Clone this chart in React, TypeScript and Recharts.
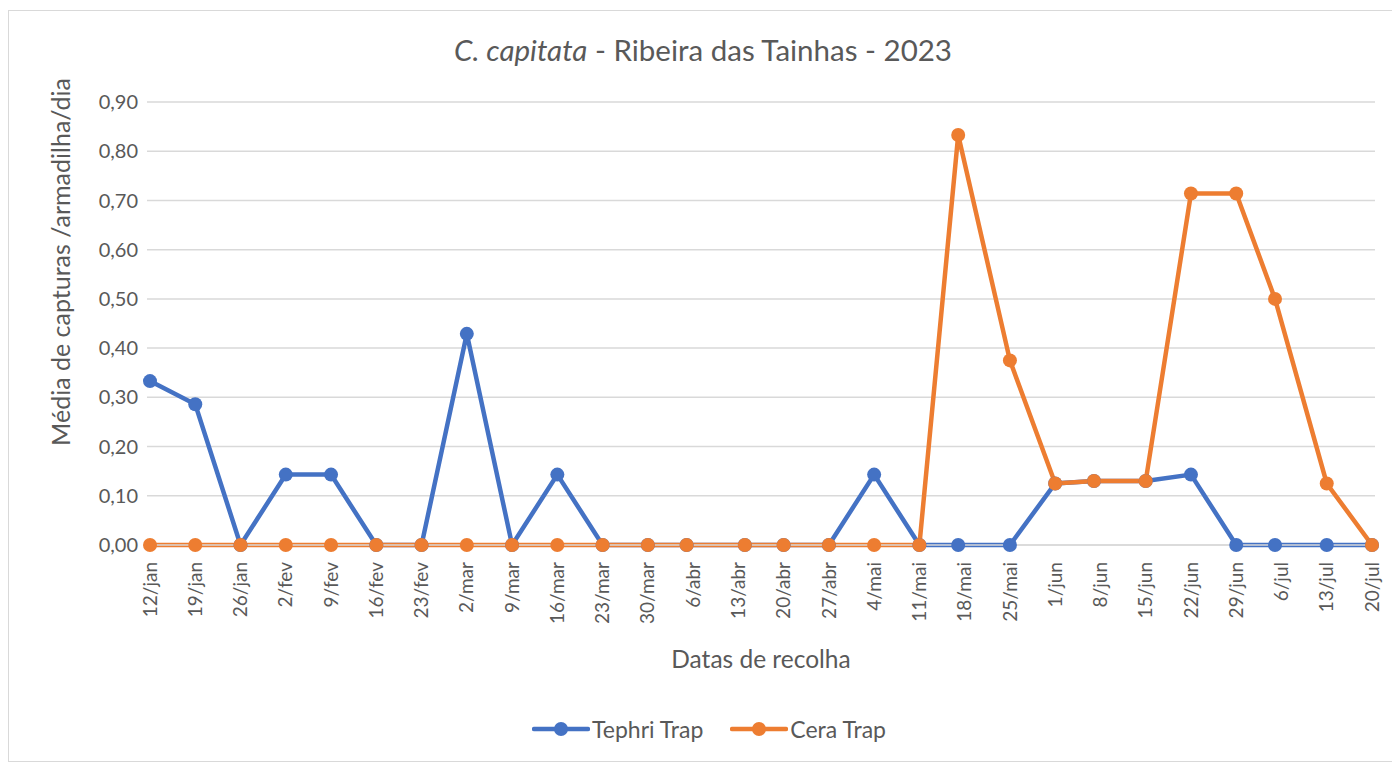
import React from 'react';
import { LineChart, Line, XAxis, YAxis, CartesianGrid, Legend, Label } from 'recharts';

// collection dates (actual sampling days) and mean captures per trap per day
const collectionDates = [
  '2023-01-12', '2023-01-19', '2023-01-26', '2023-02-02', '2023-02-09', '2023-02-16', '2023-02-23',
  '2023-03-02', '2023-03-09', '2023-03-16', '2023-03-23', '2023-03-30', '2023-04-05', '2023-04-14',
  '2023-04-20', '2023-04-27', '2023-05-04', '2023-05-11', '2023-05-17', '2023-05-25', '2023-06-01',
  '2023-06-07', '2023-06-15', '2023-06-22', '2023-06-29', '2023-07-05', '2023-07-13', '2023-07-20',
];
const tephriTrap = [
  0.333, 0.286, 0, 0.143, 0.143, 0, 0, 0.429, 0, 0.143, 0, 0, 0, 0,
  0, 0, 0.143, 0, 0, 0, 0.125, 0.13, 0.13, 0.143, 0, 0, 0, 0,
];
const ceraTrap = [
  0, 0, 0, 0, 0, 0, 0, 0, 0, 0, 0, 0, 0, 0,
  0, 0, 0, 0, 0.833, 0.375, 0.125, 0.13, 0.13, 0.714, 0.714, 0.5, 0.125, 0,
];

// weekly tick labels of the date axis
const tickLabels = [
  '12/jan', '19/jan', '26/jan', '2/fev', '9/fev', '16/fev', '23/fev', '2/mar', '9/mar', '16/mar',
  '23/mar', '30/mar', '6/abr', '13/abr', '20/abr', '27/abr', '4/mai', '11/mai', '18/mai', '25/mai',
  '1/jun', '8/jun', '15/jun', '22/jun', '29/jun', '6/jul', '13/jul', '20/jul',
];
const monthNames = ['jan', 'fev', 'mar', 'abr', 'mai', 'jun', 'jul', 'ago', 'set', 'out', 'nov', 'dez'];
const yTicks = [0, 0.1, 0.2, 0.3, 0.4, 0.5, 0.6, 0.7, 0.8, 0.9];

const BLUE = '#4472C4';
const ORANGE = '#ED7D31';
const TEXT = '#595959';
const FONT = 'Lato, "Open Sans", sans-serif';

const DAY = 86400000;
const origin = Date.UTC(2023, 0, 12);
const isoToDay = (iso: string) => {
  const [y, m, d] = iso.split('-').map(Number);
  return (Date.UTC(y, m - 1, d) - origin) / DAY;
};
const labelToDay = (label: string) => {
  const [d, mon] = label.split('/');
  return (Date.UTC(2023, monthNames.indexOf(mon), Number(d)) - origin) / DAY;
};

const data = collectionDates.map((date, i) => ({
  day: isoToDay(date),
  tephri: tephriTrap[i],
  cera: ceraTrap[i],
}));
const xTicks = tickLabels.map(labelToDay);
const labelByDay: Record<number, string> = {};
tickLabels.forEach((l, i) => { labelByDay[xTicks[i]] = l; });

const XTick = (props: any) => {
  const { x, y, payload } = props;
  return (
    <text
      x={x}
      y={y}
      dy="0.35em"
      transform={`rotate(-90, ${x}, ${y})`}
      textAnchor="end"
      fill={TEXT}
      fontSize={19}
      fontFamily={FONT}
    >
      {labelByDay[payload.value]}
    </text>
  );
};

const YTitle = (props: any) => {
  const { viewBox } = props;
  const cx = viewBox.x + 51;
  const cy = viewBox.y + 160;
  return (
    <text
      x={cx}
      y={cy}
      transform={`rotate(-90, ${cx}, ${cy})`}
      textAnchor="middle"
      dominantBaseline="central"
      fill={TEXT}
      fontSize={25}
      fontFamily={FONT}
    >
      Média de capturas /armadilha/dia
    </text>
  );
};

const XTitle = (props: any) => {
  const { viewBox } = props;
  return (
    <text
      x={viewBox.x + viewBox.width / 2}
      y={viewBox.y + 113}
      textAnchor="middle"
      dominantBaseline="central"
      fill={TEXT}
      fontSize={24.5}
      fontFamily={FONT}
    >
      Datas de recolha
    </text>
  );
};

const legendItems = [
  { name: 'Tephri Trap', color: BLUE },
  { name: 'Cera Trap', color: ORANGE },
];

const LegendContent = () => (
  <div
    style={{
      display: 'flex',
      justifyContent: 'center',
      gap: 27,
      height: 24,
      lineHeight: '24px',
      paddingLeft: 34,
      fontFamily: FONT,
      fontSize: 23,
      color: TEXT,
    }}
  >
    {legendItems.map((item) => (
      <div key={item.name} style={{ display: 'flex', alignItems: 'center' }}>
        <svg width={58} height={24} style={{ marginRight: 2 }}>
          <line x1={2} y1={12} x2={56} y2={12} stroke={item.color} strokeWidth={4.5} strokeLinecap="round" />
          <circle cx={29} cy={12} r={7} fill={item.color} />
        </svg>
        <span>{item.name}</span>
      </div>
    ))}
  </div>
);

const App: React.FC = () => {
  return (
    <div
      style={{
        position: 'relative',
        width: 1390,
        height: 752,
        marginTop: 2,
        border: '1px solid #d9d9d9',
        boxSizing: 'border-box',
        background: '#fff',
      }}
    >
      <div
        style={{
          position: 'absolute',
          top: 23,
          left: 0,
          width: '100%',
          textAlign: 'center',
          fontFamily: FONT,
          fontSize: 29.5,
          lineHeight: '32px',
          color: TEXT,
          zIndex: 1,
        }}
      >
        <i>C. capitata</i> - Ribeira das Tainhas - 2023
      </div>
      <LineChart
        width={1388}
        height={750}
        data={data}
        margin={{ top: 91, right: 22, left: 0, bottom: 20 }}
      >
        <CartesianGrid vertical={false} stroke="#D9D9D9" strokeWidth={1.5} />
        <XAxis
          dataKey="day"
          type="number"
          domain={[0, 189]}
          ticks={xTicks}
          interval={0}
          tick={<XTick />}
          tickLine={false}
          tickSize={0}
          tickMargin={17}
          axisLine={{ stroke: '#D9D9D9', strokeWidth: 1.5 }}
          padding={{ left: 3, right: 3 }}
          height={172}
        >
          <Label content={<XTitle />} />
        </XAxis>
        <YAxis
          domain={[0, 0.9]}
          ticks={yTicks}
          interval={0}
          width={138}
          tickFormatter={(v: number) => v.toFixed(2).replace('.', ',')}
          tick={{ fill: TEXT, fontSize: 20, fontFamily: FONT }}
          axisLine={false}
          tickLine={false}
          tickSize={0}
          tickMargin={9}
        >
          <Label content={<YTitle />} />
        </YAxis>
        <Legend verticalAlign="bottom" align="center" content={<LegendContent />} />
        <Line
          dataKey="tephri"
          name="Tephri Trap"
          stroke={BLUE}
          strokeWidth={4.5}
          dot={{ r: 7, fill: BLUE, stroke: BLUE, strokeWidth: 0 }}
          activeDot={false}
          isAnimationActive={false}
        />
        <Line
          dataKey="cera"
          name="Cera Trap"
          stroke={ORANGE}
          strokeWidth={4.5}
          dot={{ r: 7, fill: ORANGE, stroke: ORANGE, strokeWidth: 0 }}
          activeDot={false}
          isAnimationActive={false}
        />
      </LineChart>
    </div>
  );
};

export default App;
